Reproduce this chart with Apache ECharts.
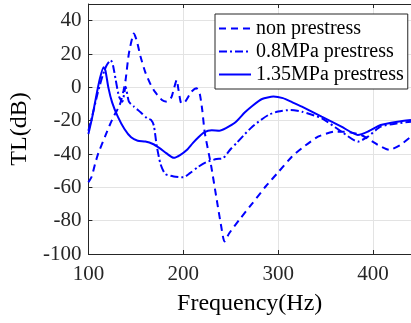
<!DOCTYPE html>
<html>
<head>
<meta charset="utf-8">
<script src="https://cdn.jsdelivr.net/npm/echarts@6/dist/echarts.min.js"></script>
<style>
  html, body { margin: 0; padding: 0; background: #fff; }
  #chart { width: 411px; height: 323px; }
</style>
</head>
<body>
<div id="chart"></div>
<script>
// series names
var names = ['non prestress', '0.8MPa prestress', '1.35MPa prestress'];

// non prestress (dashed)
var nonFreq = [100, 103.5, 107, 110.5, 117.5, 123, 128, 132, 134.5, 137, 139.2, 142.7, 148, 151, 155, 160, 165, 170, 177.5, 182.6, 187.5, 190.5, 193, 195, 198, 202, 208.6, 214, 217.4, 220, 222.6, 229.5, 234.7, 240, 243.4, 248.6, 259, 273, 286.8, 300.7, 314.6, 325, 342, 359.7, 370, 387.5, 405, 417, 429, 440];
var nonTL   = [-57, -53.5, -46, -39.5, -29.6, -22, -16, -12, -8, -2, 4.4, 20.4, 32.3, 28, 18.3, 9, 2.4, -2.6, -7.6, -8.6, -6, 0, 4.4, -1.6, -9.6, -8.6, -2.6, -0.6, -4, -13.6, -27, -47.5, -65.5, -83.5, -92.5, -87.4, -79.5, -69.5, -59.5, -50.5, -41.5, -36.5, -29.6, -26.6, -26.6, -28.6, -34.5, -37.5, -34.5, -29.6];

// 0.8MPa prestress (dash-dot)
var midFreq = [100, 105, 110, 115, 119, 123.6, 126, 128.8, 132.3, 135.8, 139.2, 142.7, 148, 155, 161.8, 166, 169, 172, 176, 181, 190, 200, 207, 215, 224, 235, 242, 250, 256, 265, 273, 282, 290, 300, 313, 325, 346, 366.7, 384, 394.5, 408, 425.7, 440];
var midTL   = [-26, -15, -3, 7, 13, 16.3, 13, 4.4, -5.6, -8.6, 0.4, -8.6, -11.6, -15, -18.6, -19.5, -23, -35, -46, -52, -53.5, -54, -51.5, -48, -45, -43, -42.5, -37, -33.5, -28, -23.5, -19.5, -16.5, -14.5, -13.6, -14.6, -18.6, -26.6, -32.6, -29.6, -23.6, -21.6, -20.6];

// 1.35MPa prestress (solid)
var hiFreq = [100, 104, 108, 112, 116, 118, 121, 125, 131, 138, 145, 152, 160, 168, 175, 182, 190, 197, 204, 210, 216, 222, 230, 238, 245, 255, 265, 273, 283, 295, 305, 315, 325, 345.8, 366.7, 384, 394.5, 408, 425.7, 440];
var hiTL   = [-28, -18, -6, 5, 12, 10, 0, -9, -17.6, -25, -30, -32, -32.5, -34, -36.5, -39.5, -42.3, -40.5, -37.5, -33.5, -30, -27, -25.8, -26, -24.5, -21, -15, -11, -7, -5.5, -6.5, -9, -11.6, -17.6, -23.6, -28.6, -26.6, -22.6, -20.6, -19.6];

// axis ticks
var xTicks = [100, 200, 300, 400];
var yTicks = [-100, -80, -60, -40, -20, 0, 20, 40];

function pairs(xs, ys) {
  return xs.map(function (x, i) { return [x, ys[i]]; });
}

var font = "'Liberation Serif', 'Times New Roman', serif";
var ink = '#262626';
var blue = '#0000ff';

var chart = echarts.init(document.getElementById('chart'));
chart.setOption({
  animation: false,
  backgroundColor: '#fff',
  grid: { left: 84, top: 4, right: 0, bottom: 69, containLabel: false },
  legend: {
    orient: 'vertical',
    left: 215,
    top: 14,
    padding: [3, 4, 3, 3],
    itemGap: 0,
    itemWidth: 32,
    itemHeight: 14,
    borderColor: ink,
    borderWidth: 1,
    backgroundColor: '#fff',
    itemStyle: { opacity: 0 },
    textStyle: { fontFamily: font, fontSize: 20, color: '#000', lineHeight: 23 },
    data: names
  },
  xAxis: [{
    type: 'value',
    min: 100,
    max: 440,
    interval: 100,
    name: 'Frequency(Hz)',
    nameLocation: 'middle',
    nameGap: 38,
    nameTextStyle: { fontFamily: font, fontSize: 24, color: '#000' },
    axisLine: { show: true, onZero: false, lineStyle: { color: ink, width: 1 } },
    axisTick: { show: true, inside: true, length: 4, lineStyle: { color: ink } },
    axisLabel: {
      fontFamily: font, fontSize: 21, color: ink, margin: 10,
      showMaxLabel: false,
      formatter: function (v) { return xTicks.indexOf(v) >= 0 ? String(v) : ''; }
    },
    splitLine: { show: true, lineStyle: { color: '#e3e3e3', width: 1 } }
  }, {
    type: 'value',
    position: 'top',
    min: 100,
    max: 440,
    interval: 100,
    axisLine: { show: true, onZero: false, lineStyle: { color: ink, width: 1 } },
    axisTick: { show: true, inside: true, length: 4, lineStyle: { color: ink } },
    axisLabel: { show: false },
    splitLine: { show: false }
  }],
  yAxis: {
    type: 'value',
    min: -100,
    max: 50,
    interval: 20,
    name: 'TL(dB)',
    nameLocation: 'middle',
    nameGap: 50,
    nameTextStyle: { fontFamily: font, fontSize: 24, color: '#000' },
    axisLine: { show: true, onZero: false, lineStyle: { color: ink, width: 1 } },
    axisTick: { show: true, inside: true, length: 4, lineStyle: { color: ink } },
    axisLabel: {
      fontFamily: font, fontSize: 21, color: ink, margin: 7,
      showMaxLabel: false,
      formatter: function (v) { return yTicks.indexOf(v) >= 0 ? String(v) : ''; }
    },
    splitLine: { show: true, lineStyle: { color: '#e3e3e3', width: 1 } }
  },
  series: [{
    name: names[0],
    type: 'line',
    symbol: 'none',
    smooth: 0.2,
    data: pairs(nonFreq, nonTL),
    lineStyle: { color: blue, width: 2, type: [7, 5] },
    itemStyle: { color: blue }
  }, {
    name: names[1],
    type: 'line',
    symbol: 'none',
    smooth: 0.2,
    data: pairs(midFreq, midTL),
    lineStyle: { color: blue, width: 2, type: [8, 3, 2, 3] },
    itemStyle: { color: blue }
  }, {
    name: names[2],
    type: 'line',
    symbol: 'none',
    smooth: 0.2,
    data: pairs(hiFreq, hiTL),
    lineStyle: { color: blue, width: 2 },
    itemStyle: { color: blue }
  }]
});
</script>
</body>
</html>
